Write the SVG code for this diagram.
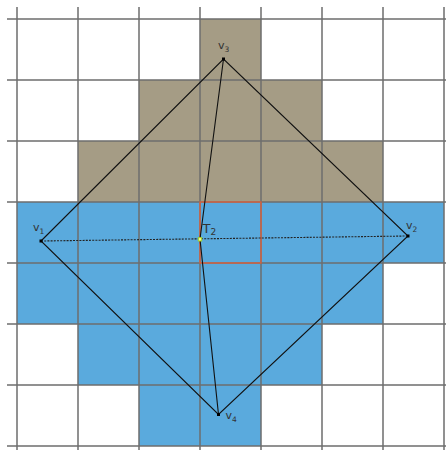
<svg xmlns="http://www.w3.org/2000/svg" width="446" height="450" viewBox="0 0 446 450">
<style>
.tan{fill:#a59c85}
.blue{fill:#5aaadd}
.grid{stroke:#6e6e6e;stroke-width:1.5;fill:none}
.edge{stroke:#111;stroke-width:1.1;fill:none}
.dot{stroke:#222;stroke-width:1.1;fill:none;stroke-dasharray:2,1.2}
.lbl{font-family:"DejaVu Sans",sans-serif;font-size:11px;fill:#333}
.sub{font-size:7.5px}
.vtx{fill:#000}
</style>
<rect width="446" height="450" fill="#fff"/>
<g id="cells">
<rect class="tan" x="200" y="19" width="61" height="61"/>
<rect class="tan" x="139" y="80" width="183" height="61"/>
<rect class="tan" x="78" y="141" width="305" height="61"/>
<rect class="blue" x="17" y="202" width="427" height="61"/>
<rect class="blue" x="17" y="263" width="366" height="61"/>
<rect class="blue" x="78" y="324" width="244" height="61"/>
<rect class="blue" x="139" y="385" width="122" height="61"/>
</g>
<g id="grid" class="grid">
<path d="M17 7V450M78 7V450M139 7V450M200 7V450M261 7V450M322 7V450M383 7V450M444 7V450"/>
<path d="M7 19H446M7 80H446M7 141H446M7 202H446M7 263H446M7 324H446M7 385H446M7 446H446"/>
</g>
<g id="cell-T2">
<rect x="200" y="202" width="61" height="61" fill="none" stroke="#e0603a" stroke-width="1.3"/>
</g>
<g id="connectors">
<path class="edge" d="M41 241L223.5 59L408 236L218.5 414.5Z"/>
<path class="edge" d="M223.5 59L200 239L218.5 414.5"/>
<path class="dot" d="M41 241L408 236"/>
</g>
<g id="v1"><rect class="vtx" x="39.5" y="239.5" width="3" height="3"/><text class="lbl" x="33" y="231">v<tspan class="sub" dy="2.5">1</tspan></text></g>
<g id="v2"><rect class="vtx" x="406.5" y="234.5" width="3" height="3"/><text class="lbl" x="406" y="229">v<tspan class="sub" dy="3">2</tspan></text></g>
<g id="v3"><rect class="vtx" x="222" y="57.5" width="3" height="3"/><text class="lbl" x="218" y="49">v<tspan class="sub" dy="3">3</tspan></text></g>
<g id="v4"><rect class="vtx" x="217" y="413" width="3" height="3"/><text class="lbl" x="225.5" y="419">v<tspan class="sub" dy="3">4</tspan></text></g>
<g id="T2"><rect x="198.3" y="237.6" width="3.4" height="3.4" fill="#ffff80" stroke="#9acd32" stroke-width="1"/><text class="lbl" x="202.5" y="233" style="font-size:13px">T<tspan class="sub" style="font-size:9px" dy="1.5">2</tspan></text></g>
</svg>
